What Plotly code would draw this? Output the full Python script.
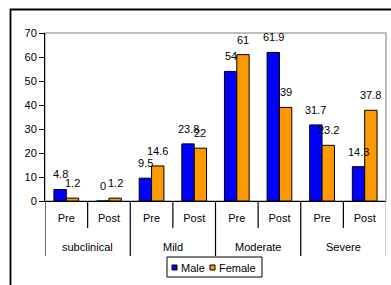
import plotly.graph_objects as go

groups = ["subclinical", "subclinical", "Mild", "Mild", "Moderate", "Moderate", "Severe", "Severe"]
phases = ["Pre", "Post", "Pre", "Post", "Pre", "Post", "Pre", "Post"]
male = [4.8, 0, 9.5, 23.8, 54, 61.9, 31.7, 14.3]
female = [1.2, 1.2, 14.6, 22, 61, 39, 23.2, 37.8]
series_names = ["Male", "Female"]
series_colors = ["#0000FF", "#FF9900"]

W, H = 391, 285
L, R, T, B = 45, 5, 33, 84
PW, PH = W - L - R, H - T - B
BARGAP = 0.42

def px(x):
    return (x - L) / PW

def py(y):
    return (H - B - y) / PH

keys = [g + "|" + p for g, p in zip(groups, phases)]
fnt = dict(family="Liberation Sans, Arial, sans-serif", size=11, color="#000")

fig = go.Figure()
shapes = []
annotations = []
nser = len(series_names)
bw = (1 - BARGAP) / nser
for s, (name, vals, col) in enumerate(zip(series_names, [male, female], series_colors)):
    fig.add_trace(go.Bar(x=keys, y=vals, name=name,
                         marker=dict(color=col, line=dict(color="#000", width=1)),
                         showlegend=False))
    off = -(1 - BARGAP) / 2 + bw * (s + 0.5)
    for i, v in enumerate(vals):
        annotations.append(dict(x=i + off, y=v, xref="x", yref="y", text=str(v),
                                showarrow=False, font=fnt, xanchor="center",
                                yanchor="middle", yshift=15))

shapes += [
    # plot area border (gray)
    dict(type="rect", xref="paper", yref="paper", x0=0, x1=1, y0=0, y1=1,
         line=dict(color="#a8a8a8", width=1.5), layer="below"),
    # outer chart border
    dict(type="rect", xref="paper", yref="paper", x0=px(10.5), x1=px(420), y0=py(330), y1=py(9.5),
         line=dict(color="#000", width=1.8), layer="below"),
]

# category dividers
n = len(keys)
for i in range(n + 1):
    xpos = i - 0.5
    if i == 0 or i == n or groups[i - 1] != groups[i]:
        y1 = py(256)
    else:
        y1 = py(228)
    color = "#a8a8a8" if i == n else "#000"
    shapes.append(dict(type="line", xref="x", yref="paper", x0=xpos, x1=xpos, y0=0, y1=y1,
                       line=dict(color=color, width=1.2)))

# group labels
seen = []
for g in groups:
    if g not in seen:
        seen.append(g)
for g in seen:
    idx = [i for i, gg in enumerate(groups) if gg == g]
    annotations.append(dict(x=(idx[0] + idx[-1]) / 2, y=py(246.5), xref="x", yref="paper",
                            text=g, showarrow=False, font=fnt, xanchor="center", yanchor="middle"))

# legend (manual, compact)
shapes.append(dict(type="rect", xref="paper", yref="paper", x0=px(167), x1=px(262),
                   y0=py(277), y1=py(257), line=dict(color="#000", width=1), fillcolor="white"))
leg_sq = [172, 210]
leg_tx = [178.5, 216.5]
for name, col, sx, tx in zip(series_names, series_colors, leg_sq, leg_tx):
    shapes.append(dict(type="rect", xref="paper", yref="paper", x0=px(sx), x1=px(sx + 5),
                       y0=py(270), y1=py(265), line=dict(color="#000", width=1), fillcolor=col))
    annotations.append(dict(x=px(tx), y=py(267.5), xref="paper", yref="paper", text=name,
                            showarrow=False, font=fnt, xanchor="left", yanchor="middle"))

fig.update_layout(
    width=W, height=H,
    margin=dict(l=L, r=R, t=T, b=B),
    paper_bgcolor="white", plot_bgcolor="white",
    barmode="group", bargap=BARGAP, bargroupgap=0,
    font=fnt,
    showlegend=False,
    xaxis=dict(type="category", tickvals=keys, ticktext=phases, showline=True,
               linecolor="#000", linewidth=1, ticks="", ticklabelstandoff=7,
               tickfont=fnt, range=[-0.5, n - 0.5]),
    yaxis=dict(range=[0, 70], dtick=10, showgrid=False, showline=True, linecolor="#000",
               linewidth=1, ticks="outside", ticklen=5, tickcolor="#000",
               tickfont=fnt, zeroline=False),
    shapes=shapes,
    annotations=annotations,
)

fig.write_html("out.html", config={"displayModeBar": False},
               post_script="document.body.style.margin='0';document.body.style.overflow='hidden';")
